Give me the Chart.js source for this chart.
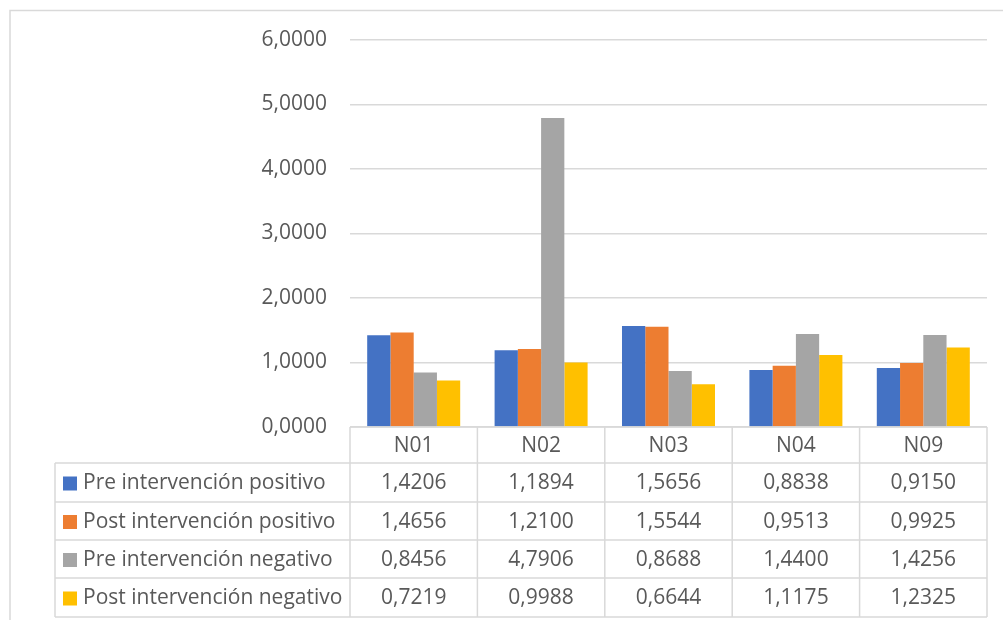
<!DOCTYPE html>
<html>
<head>
<meta charset="utf-8">
<script src="https://cdn.jsdelivr.net/npm/chart.js@4.4.0/dist/chart.umd.min.js"></script>
<style>
  html, body { margin: 0; padding: 0; background: #fff; }
  canvas { display: block; }
</style>
</head>
<body>
<canvas id="chart" width="1003" height="620"></canvas>
<script>
const categories = ["N01", "N02", "N03", "N04", "N09"];
const seriesNames = [
  "Pre intervención positivo",
  "Post intervención positivo",
  "Pre intervención negativo",
  "Post intervención negativo"
];
const prePositivo = [1.4206, 1.1894, 1.5656, 0.8838, 0.9150];
const postPositivo = [1.4656, 1.2100, 1.5544, 0.9513, 0.9925];
const preNegativo = [0.8456, 4.7906, 0.8688, 1.4400, 1.4256];
const postNegativo = [0.7219, 0.9988, 0.6644, 1.1175, 1.2325];
const colors = ["#4472C4", "#ED7D31", "#A5A5A5", "#FFC000"];

const textColor = "#595959";
const lineColor = "#D9D9D9";
const fontFamily = "'Open Sans', sans-serif";
const fontSize = 21;

function fmt(v) {
  return v.toFixed(4).replace(".", ",");
}

// draws the outer frame and the data table under the plot
const dataTable = {
  id: "dataTable",
  afterDraw(chart) {
    const ctx = chart.ctx;
    const x = chart.scales.x;
    const area = chart.chartArea;
    const n = categories.length;
    const edges = [area.left];
    for (let i = 1; i < n; i++) {
      edges.push((x.getPixelForValue(i - 1) + x.getPixelForValue(i)) / 2);
    }
    edges.push(area.right);

    const tableLeft = 55;
    const rows = [area.bottom, 463, 502, 540, 578, 617];

    ctx.save();
    ctx.strokeStyle = lineColor;
    ctx.lineWidth = 1.5;

    // outer chart frame
    ctx.beginPath();
    ctx.moveTo(10, 620);
    ctx.lineTo(10, 10.5);
    ctx.lineTo(1003, 10.5);
    ctx.stroke();

    ctx.beginPath();
    ctx.moveTo(edges[0], rows[0]);
    ctx.lineTo(edges[n], rows[0]);
    for (let r = 1; r < rows.length; r++) {
      ctx.moveTo(tableLeft, rows[r]);
      ctx.lineTo(edges[n], rows[r]);
    }
    for (let i = 0; i <= n; i++) {
      ctx.moveTo(edges[i], rows[0]);
      ctx.lineTo(edges[i], rows[rows.length - 1]);
    }
    ctx.moveTo(tableLeft, rows[1]);
    ctx.lineTo(tableLeft, rows[rows.length - 1]);
    ctx.stroke();

    ctx.fillStyle = textColor;
    ctx.font = fontSize + "px " + fontFamily;
    ctx.textBaseline = "middle";
    ctx.textAlign = "center";
    categories.forEach((c, i) => {
      ctx.fillText(c, x.getPixelForValue(i), (rows[0] + rows[1]) / 2 + 1);
    });

    chart.data.datasets.forEach((ds, r) => {
      const yMid = (rows[r + 1] + rows[r + 2]) / 2 + 1;
      ctx.fillStyle = ds.backgroundColor;
      ctx.fillRect(63, yMid - 7, 14, 14);
      ctx.fillStyle = textColor;
      ctx.textAlign = "left";
      ctx.fillText(ds.label, 83, yMid);
      ctx.textAlign = "center";
      ds.data.forEach((v, i) => {
        ctx.fillText(fmt(v), x.getPixelForValue(i), yMid);
      });
    });
    ctx.restore();
  }
};

new Chart(document.getElementById("chart"), {
  type: "bar",
  data: {
    labels: categories,
    datasets: [
      { label: seriesNames[0], data: prePositivo, backgroundColor: colors[0] },
      { label: seriesNames[1], data: postPositivo, backgroundColor: colors[1] },
      { label: seriesNames[2], data: preNegativo, backgroundColor: colors[2] },
      { label: seriesNames[3], data: postNegativo, backgroundColor: colors[3] }
    ]
  },
  options: {
    responsive: false,
    animation: false,
    categoryPercentage: 0.73,
    barPercentage: 1,
    layout: { padding: { left: 0, right: 16, top: 40, bottom: 193 } },
    plugins: {
      legend: { display: false },
      tooltip: { enabled: false }
    },
    scales: {
      x: { display: false },
      y: {
        min: 0,
        max: 6,
        afterFit(scale) { scale.width = 350; },
        border: { display: false },
        grid: { color: lineColor, lineWidth: 1.5, drawTicks: false },
        ticks: {
          stepSize: 1,
          padding: 23,
          color: textColor,
          font: { family: fontFamily, size: fontSize },
          callback: v => fmt(v)
        }
      }
    }
  },
  plugins: [dataTable]
});
</script>
</body>
</html>
